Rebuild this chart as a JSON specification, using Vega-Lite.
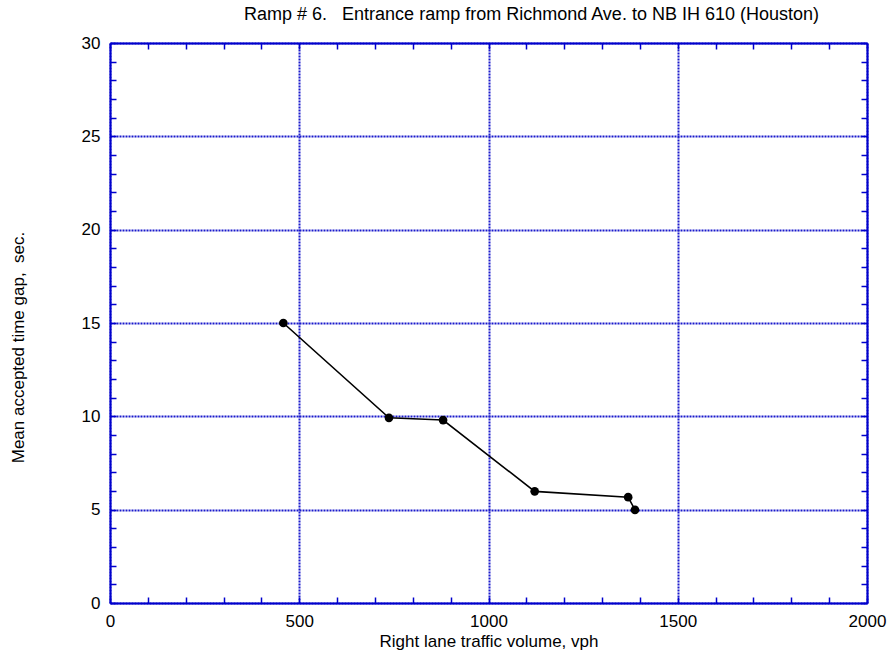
{
  "$schema": "https://vega.github.io/schema/vega-lite/v6.json",
  "width": 757,
  "height": 560,
  "autosize": {"type": "none"},
  "padding": {"left": 110, "top": 43, "right": 28, "bottom": 59},
  "config": {
    "view": {"stroke": null},
    "font": "Liberation Sans",
    "axis": {
      "domainColor": "#0000cc",
      "domainWidth": 2,
      "tickColor": "#0000cc",
      "tickWidth": 1.5,
      "tickSize": -6,
      "labelFont": "Liberation Sans",
      "labelFontSize": 17,
      "labelColor": "black",
      "titleFont": "Liberation Sans",
      "titleFontSize": 17,
      "titleFontWeight": "normal",
      "titleColor": "black"
    }
  },
  "title": {
    "text": "Ramp # 6.\u00a0\u00a0\u00a0Entrance ramp from Richmond Ave. to NB IH 610 (Houston)",
    "font": "Liberation Sans",
    "fontSize": 18,
    "fontWeight": "normal",
    "color": "black",
    "anchor": "middle",
    "dx": 43,
    "offset": 10
  },
  "data": {
    "values": [
      {"volume": 458, "gap": 15.0},
      {"volume": 737, "gap": 9.92},
      {"volume": 880, "gap": 9.8},
      {"volume": 1122, "gap": 5.98},
      {"volume": 1369, "gap": 5.67},
      {"volume": 1387, "gap": 4.99}
    ]
  },
  "resolve": {"axis": {"x": "independent", "y": "independent"}},
  "layer": [
    {
      "mark": {"type": "point", "opacity": 0},
      "encoding": {
        "x": {
          "field": "volume", "type": "quantitative",
          "scale": {"domain": [0, 2000], "nice": false, "zero": false},
          "axis": {
            "orient": "top", "labels": false, "grid": false, "title": null,
            "values": [0,100,200,300,400,500,600,700,800,900,1000,1100,1200,1300,1400,1500,1600,1700,1800,1900,2000]
          }
        },
        "y": {
          "field": "gap", "type": "quantitative",
          "scale": {"domain": [0, 30], "nice": false, "zero": false},
          "axis": {
            "orient": "right", "labels": false, "grid": false, "title": null,
            "values": [0,1,2,3,4,5,6,7,8,9,10,11,12,13,14,15,16,17,18,19,20,21,22,23,24,25,26,27,28,29,30]
          }
        }
      }
    },
    {
      "mark": {"type": "line", "color": "black", "strokeWidth": 1.6},
      "encoding": {
        "x": {
          "field": "volume", "type": "quantitative",
          "scale": {"domain": [0, 2000], "nice": false, "zero": false},
          "axis": {
            "orient": "bottom",
            "title": "Right lane traffic volume, vph",
            "values": [0,100,200,300,400,500,600,700,800,900,1000,1100,1200,1300,1400,1500,1600,1700,1800,1900,2000],
            "labelExpr": "datum.value % 500 === 0 ? datum.label : ''",
            "format": "d",
            "labelPadding": 16,
            "labelFlush": false,
            "labelOverlap": false,
            "titlePadding": 4,
            "grid": true,
            "gridColor": "#1a1acc",
            "gridDash": [2, 1],
            "gridWidth": 2,
            "gridOpacity": {"condition": {"test": "datum.value % 500 === 0", "value": 1}, "value": 0}
          }
        },
        "y": {
          "field": "gap", "type": "quantitative",
          "scale": {"domain": [0, 30], "nice": false, "zero": false},
          "axis": {
            "orient": "left",
            "title": "Mean accepted time gap,\u00a0\u00a0sec.",
            "values": [0,1,2,3,4,5,6,7,8,9,10,11,12,13,14,15,16,17,18,19,20,21,22,23,24,25,26,27,28,29,30],
            "labelExpr": "datum.value % 5 === 0 ? datum.label : ''",
            "labelPadding": 16,
            "labelFlush": false,
            "labelOverlap": false,
            "titleX": -92,
            "titleY": 304,
            "titleAngle": -90,
            "titleBaseline": "middle",
            "titleAlign": "center",
            "grid": true,
            "gridColor": "#1a1acc",
            "gridDash": [2, 1],
            "gridWidth": 2,
            "gridOpacity": {"condition": {"test": "datum.value % 5 === 0", "value": 1}, "value": 0}
          }
        }
      }
    },
    {
      "mark": {"type": "point", "filled": true, "color": "black", "opacity": 1, "size": 75},
      "encoding": {
        "x": {"field": "volume", "type": "quantitative", "axis": null},
        "y": {"field": "gap", "type": "quantitative", "axis": null}
      }
    }
  ]
}
